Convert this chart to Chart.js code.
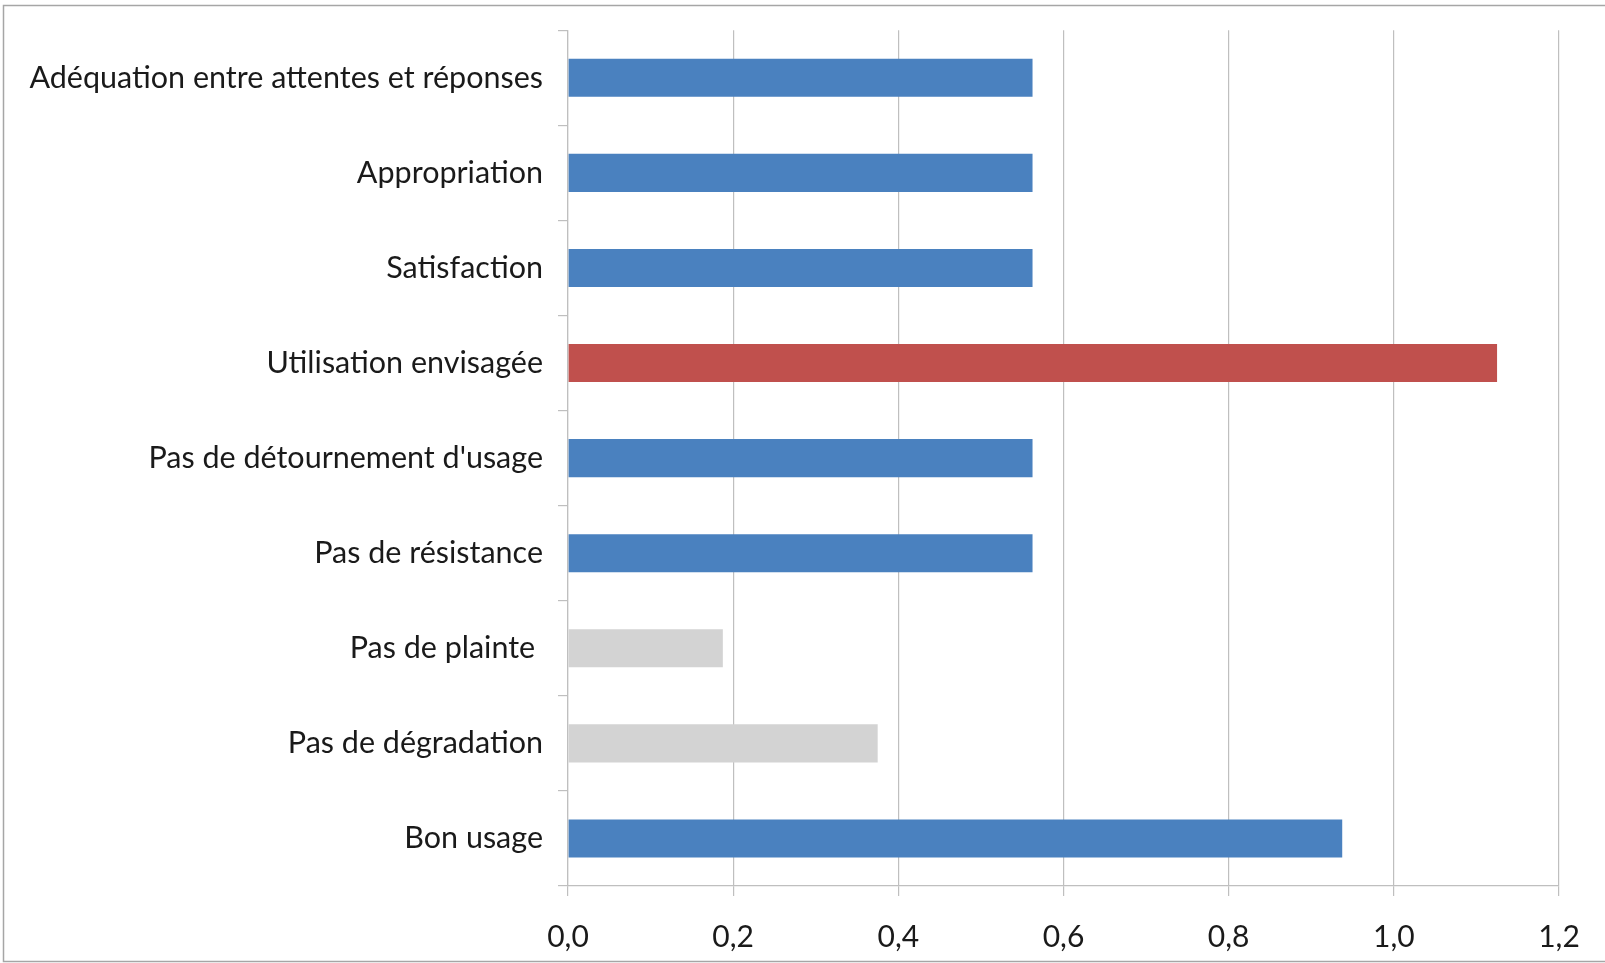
<!DOCTYPE html>
<html>
<head>
<meta charset="utf-8">
<script src="https://cdn.jsdelivr.net/npm/chart.js@4.4.0/dist/chart.umd.min.js"></script>
<style>
  html, body { margin: 0; padding: 0; background: #fff; }
  #wrap { width: 1605px; height: 963px; position: relative; }
</style>
</head>
<body>
<div id="wrap"><canvas id="chart" width="1605" height="963"></canvas></div>
<script>
// categories, top to bottom
const categories = [
  "Adéquation entre attentes et réponses",
  "Appropriation",
  "Satisfaction",
  "Utilisation envisagée",
  "Pas de détournement d'usage",
  "Pas de résistance",
  "Pas de plainte ",
  "Pas de dégradation",
  "Bon usage"
];
const values = [0.5625, 0.5625, 0.5625, 1.125, 0.5625, 0.5625, 0.1875, 0.375, 0.9375];
const barColors = ["#4a81bf", "#4a81bf", "#4a81bf", "#c0504d", "#4a81bf", "#4a81bf", "#d3d3d3", "#d3d3d3", "#4a81bf"];
const xMax = 1.2;
const xStep = 0.2;

// outer frame of the spreadsheet chart (right edge falls outside the picture)
const framePlugin = {
  id: "frame",
  afterDraw(chart) {
    const ctx = chart.ctx;
    ctx.save();
    ctx.strokeStyle = "#a6a6a6";
    ctx.lineWidth = 1.5;
    ctx.beginPath();
    ctx.moveTo(chart.width + 5, 5.5);
    ctx.lineTo(3.5, 5.5);
    ctx.lineTo(3.5, 961.5);
    ctx.lineTo(chart.width + 5, 961.5);
    ctx.stroke();
    ctx.restore();
  }
};

const fontFamily = "Lato, 'Open Sans', sans-serif";

function buildConfig() {
  return {
    type: "bar",
    data: {
      labels: categories,
      datasets: [{
        data: values,
        backgroundColor: barColors,
        borderWidth: 0,
        barPercentage: 0.40,
        categoryPercentage: 1.0
      }]
    },
    options: {
      indexAxis: "y",
      responsive: false,
      animation: false,
      layout: { padding: { top: 14, right: 46, left: 0, bottom: 0 } },
      plugins: { legend: { display: false }, tooltip: { enabled: false } },
      scales: {
        x: {
          min: 0,
          max: xMax,
          ticks: {
            stepSize: xStep,
            color: "#1a1a1a",
            font: { family: fontFamily, size: 30 },
            padding: 23,
            callback: (v) => v.toFixed(1).replace(".", ",")
          },
          grid: { color: "#bfbfbf", lineWidth: 1.2, tickLength: 10, drawTicks: true },
          border: { color: "#bfbfbf", width: 1.2 },
          afterFit(scale) { scale.height = 77; }
        },
        y: {
          ticks: {
            color: "#1a1a1a",
            font: { family: fontFamily, size: 30.5, lineHeight: 1.0 },
            padding: 15
          },
          grid: { offset: true, drawOnChartArea: false, color: "#bfbfbf", lineWidth: 1.2, tickLength: 10 },
          border: { color: "#bfbfbf", width: 1.2 },
          afterFit(scale) { scale.width = 568; }
        }
      }
    },
    plugins: [framePlugin]
  };
}

new Chart(document.getElementById("chart").getContext("2d"), buildConfig());
</script>
</body>
</html>
